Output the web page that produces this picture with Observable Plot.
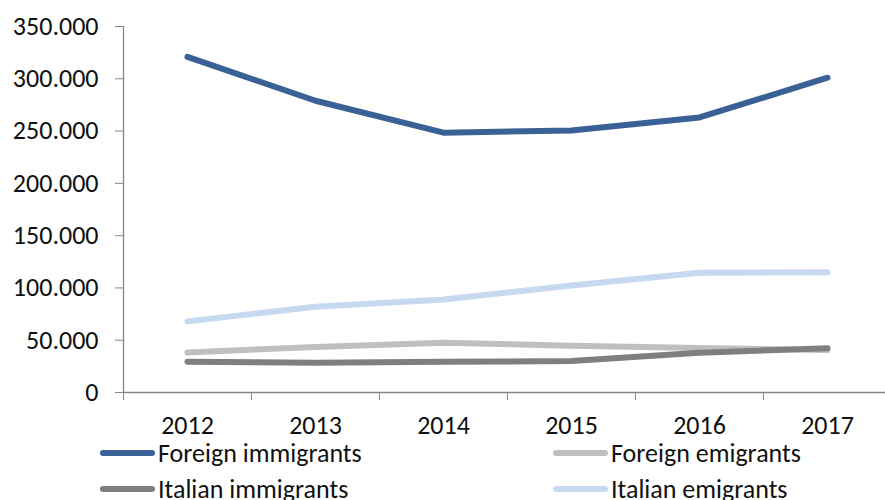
<!DOCTYPE html>
<html>
<head>
<meta charset="utf-8">
<script src="https://cdn.jsdelivr.net/npm/d3@7"></script>
<script src="https://cdn.jsdelivr.net/npm/@observablehq/plot@0.6"></script>
<style>
  html, body { margin: 0; padding: 0; background: #fff; }
  body { width: 885px; height: 500px; overflow: hidden; font-family: Carlito, Calibri, Lato, sans-serif; }
  #legend { display: flex; flex-wrap: wrap; padding-left: 100px; width: 906px; margin-top: -5px; }
  .item { display: flex; align-items: center; width: 453px; height: 36px; font-size: 26px; line-height: 36px; color: #111; white-space: nowrap; }
  .sw { width: 55px; height: 6px; border-radius: 3px; margin-right: 3px; flex: none; }
</style>
</head>
<body>
<div id="chart"></div>
<div id="legend"></div>
<script>
const years = [2012, 2013, 2014, 2015, 2016, 2017];
const seriesNames = ["Foreign immigrants", "Foreign emigrants", "Italian immigrants", "Italian emigrants"];
const seriesColors = ["#3A6196", "#BFBFBF", "#7F7F7F", "#C6D9F1"];
const foreignImmigrants = [321000, 279000, 248500, 250500, 263000, 301000];
const foreignEmigrants = [38200, 43600, 47500, 44700, 42600, 40600];
const italianImmigrants = [29500, 28400, 29300, 30100, 37900, 42400];
const italianEmigrants = [68000, 82100, 89000, 102300, 114500, 114900];
const yTicks = [0, 50000, 100000, 150000, 200000, 250000, 300000, 350000];

const seriesValues = [foreignImmigrants, foreignEmigrants, italianImmigrants, italianEmigrants];
const rows = [];
seriesNames.forEach((name, i) => {
  years.forEach((yr, j) => rows.push({series: name, year: yr, value: seriesValues[i][j]}));
});
const boundaries = years.map(y => y - 0.5).concat([years[years.length - 1] + 0.5]);
const fmt = d3.formatLocale({decimal: ",", thousands: ".", grouping: [3], currency: ["", ""]}).format(",");
const axisColor = "#868686";

const chart = Plot.plot({
  width: 885,
  height: 440,
  marginTop: 26,
  marginBottom: 48,
  marginLeft: 123,
  marginRight: 0,
  style: {fontFamily: "Carlito, Calibri, Lato, sans-serif", fontSize: "26px", color: "#111", background: "#fff", overflow: "visible"},
  x: {domain: [years[0] - 0.5, years[years.length - 1] + 0.5], range: [123, 891]},
  y: {domain: [0, 350000]},
  color: {domain: seriesNames, range: seriesColors},
  marks: [
    Plot.ruleX([boundaries[0]], {y1: 0, y2: 350000, stroke: axisColor, strokeWidth: 1.3}),
    Plot.ruleY([0], {stroke: axisColor, strokeWidth: 1.3}),
    Plot.axisY({ticks: yTicks, tickSize: 8, tickPadding: 17, tickFormat: fmt, stroke: axisColor, fontSize: 26, label: null}),
    Plot.axisX({ticks: boundaries, tickSize: 8, tickFormat: () => "", stroke: axisColor, label: null}),
    Plot.axisX({ticks: years, tickSize: 0, tickPadding: 23, tickFormat: d => String(d), fontSize: 26, label: null}),
    Plot.line(rows, {x: "year", y: "value", z: "series", stroke: "series", strokeWidth: 6, strokeLinecap: "round", strokeLinejoin: "round"})
  ]
});
document.getElementById("chart").appendChild(chart);

const legend = document.getElementById("legend");
seriesNames.forEach((name, i) => {
  const item = document.createElement("div");
  item.className = "item";
  const sw = document.createElement("span");
  sw.className = "sw";
  sw.style.background = seriesColors[i];
  const t = document.createElement("span");
  t.textContent = name;
  item.appendChild(sw);
  item.appendChild(t);
  legend.appendChild(item);
});
</script>
</body>
</html>
